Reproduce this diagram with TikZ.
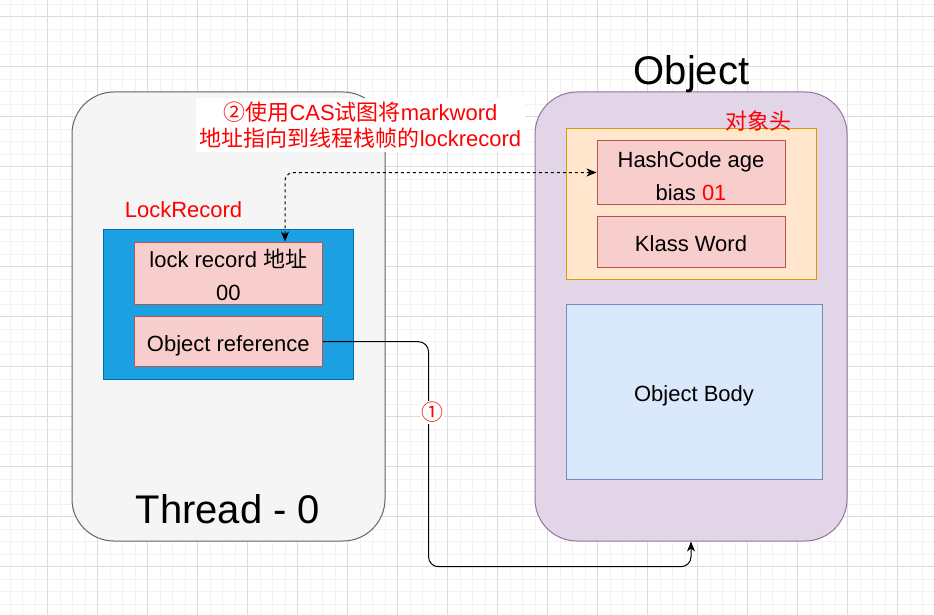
\documentclass[tikz,border=0pt]{standalone}
\usepackage{fontspec}
\setmainfont{Liberation Sans}
\newfontfamily\cjk{Noto Sans CJK SC}
\usetikzlibrary{arrows.meta}
\definecolor{gridminor}{HTML}{F2F2F2}
\definecolor{gridmajor}{HTML}{DCDCDC}
\definecolor{threadfill}{HTML}{F5F5F5}
\definecolor{threaddraw}{HTML}{666666}
\definecolor{objfill}{HTML}{E1D5E7}
\definecolor{objdraw}{HTML}{9673A6}
\definecolor{hdrfill}{HTML}{FFE6CC}
\definecolor{hdrdraw}{HTML}{D79B00}
\definecolor{redfill}{HTML}{F8CECC}
\definecolor{reddraw}{HTML}{B85450}
\definecolor{bodyfill}{HTML}{DAE8FC}
\definecolor{bodydraw}{HTML}{6C8EBF}
\definecolor{bluefill}{HTML}{1BA1E2}
\definecolor{bluedraw}{HTML}{006EAF}
\definecolor{txtred}{HTML}{FF0000}
\tikzset{
  box/.style={draw, line width=1pt, inner sep=0pt, align=center, font=\fontsize{22}{33}\selectfont},
  oneline/.style={text height=21pt, text depth=1pt},
  bigbox/.style={draw, line width=1pt, inner sep=0pt, rounded corners=42pt},
  pinkbox/.style={box, fill=redfill, draw=reddraw},
  redlabel/.style={text=txtred, inner sep=0pt, font=\fontsize{22}{26.7}\selectfont, align=center},
  title/.style={inner sep=0pt, anchor=base, font=\fontsize{40}{48}\selectfont},
  conn/.style={line width=1pt, rounded corners=10pt, -{Stealth[length=10pt,width=8pt,inset=3pt]}},
}
\begin{document}
\begin{tikzpicture}[x=1pt,y=-1pt]
\useasboundingbox (0,0) rectangle (934,615);
\fill[white] (0,0) rectangle (934,615);
% grid
\foreach \i in {0,...,75} {
  \pgfmathsetmacro{\gx}{-2.3+12.5*\i}
  \draw[gridminor, line width=0.8pt] (\gx,0) -- (\gx,615);
}
\foreach \i in {0,...,50} {
  \pgfmathsetmacro{\gy}{4+12.5*\i}
  \draw[gridminor, line width=0.8pt] (0,\gy) -- (934,\gy);
}
\foreach \i in {0,...,19} {
  \pgfmathsetmacro{\gx}{-2.3+50*\i}
  \draw[gridmajor, line width=0.8pt] (\gx,0) -- (\gx,615);
}
\foreach \i in {0,...,12} {
  \pgfmathsetmacro{\gy}{16.5+50*\i}
  \draw[gridmajor, line width=0.8pt] (0,\gy) -- (934,\gy);
}
% big containers
\node[bigbox, fill=threadfill, draw=threaddraw, minimum width=313pt, minimum height=449pt] (thread) at (228.5,316.5) {};
\node[bigbox, fill=objfill, draw=objdraw, minimum width=312pt, minimum height=449pt] (object) at (691,316.5) {};
\node[title] (threadtitle) at (228,523.3) {Thread - 0};
\node[title] (objtitle) at (691.5,85) {Object};
% object header
\node[box, fill=hdrfill, draw=hdrdraw, minimum width=250pt, minimum height=150pt] (hdr) at (691,204) {};
\node[redlabel] (hdrlabel) at (758.5,121.5) {\cjk 对象头};
\node[pinkbox, minimum width=188pt, minimum height=63pt] (hash) at (691,172.5) {\rule{0pt}{24pt}HashCode age\\bias {\color{txtred}01}};
\node[pinkbox, oneline, minimum width=188pt, minimum height=51pt] (klass) at (691,241.5) {Klass Word};
\node[box, oneline, fill=bodyfill, draw=bodydraw, minimum width=256pt, minimum height=175pt] (body) at (694,391.5) {Object Body};
% lock record
\node[box, fill=bluefill, draw=bluedraw, minimum width=250pt, minimum height=150pt] (lr) at (228.5,304) {};
\node[redlabel] (lrlabel) at (183.5,210) {LockRecord};
\node[pinkbox, minimum width=188pt, minimum height=62pt] (lraddr) at (228.3,273) {\rule{0pt}{22pt}lock record {\cjk 地址}\\00};
\node[pinkbox, oneline, minimum width=188pt, minimum height=50pt] (objref) at (228.3,341.7) {Object reference};
% connector 1
\coordinate (c1a) at (428.5,341.7);
\coordinate (c1b) at (428.5,566.7);
\coordinate (c1c) at (691,566.7);
\draw[conn] (objref.east) -- (c1a) -- (c1b) -- (c1c) -- (object.south);
\node[redlabel, fill=white, inner sep=1pt, font=\fontsize{22}{26}\selectfont] (lbl1) at (432,412.5) {\cjk ①};
% connector 2 (dashed, both ends)
\coordinate (c2a) at (285,172.7);
\draw[line width=1pt, rounded corners=8pt, dash pattern=on 3pt off 3pt,
  {Stealth[length=10pt,width=8pt,inset=3pt]}-{Stealth[length=10pt,width=8pt,inset=3pt]}]
  (hash.west) -- (c2a) -- (lraddr.north -| c2a);
% label 2
\node[fill=white, minimum width=329pt, minimum height=54pt, inner sep=0pt] (lbl2bg) at (360.5,125) {};
\node[redlabel] (lbl2) at (360.5,125) {{\cjk ②使用}CAS{\cjk 试图将}markword\\{\cjk 地址指向到线程栈帧的}lockrecord};
\end{tikzpicture}
\end{document}
